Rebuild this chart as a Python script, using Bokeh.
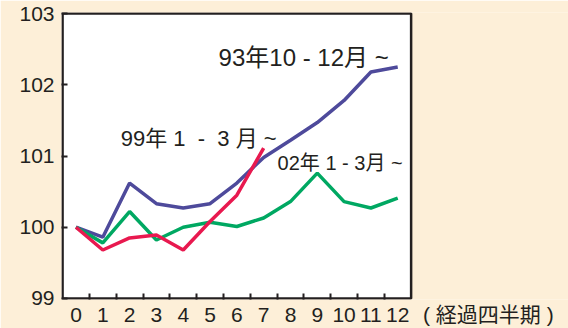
from bokeh.plotting import figure
from bokeh.models import FixedTicker, Label, Range1d, BoxAnnotation
from bokeh.embed import file_html
from bokeh.resources import INLINE

quarters = list(range(13))
s93 = [100.0, 99.86, 100.62, 100.33, 100.27, 100.33, 100.62, 100.98, 101.22, 101.47, 101.78, 102.18, 102.25]
q99 = list(range(8))
s99 = [100.0, 99.68, 99.85, 99.89, 99.68, 100.08, 100.45, 101.11]
s02 = [100.0, 99.78, 100.22, 99.82, 100.0, 100.07, 100.01, 100.13, 100.36, 100.76, 100.36, 100.27, 100.41]
y_ticks = [99, 100, 101, 102, 103]
NB = "\u00a0"
label93 = "93年10 - 12月 ~"
label99 = "99年" + NB + "1" + NB * 2 + "-" + NB * 2 + "3" + NB + "月" + NB + "~"
label02 = "02年" + NB + "1" + NB + "-" + NB + "3月" + NB + "~"
x_title = "(" + NB + "経過四半期" + NB + ")"
x_title_pos = 15.38

BG = "#FDEFD8"
INK = "#231F20"
FONT = "'Liberation Sans', 'Noto Sans CJK JP', sans-serif"

X0, X1 = quarters[0] - 0.5, quarters[-1] + 0.5
Y0, Y1 = y_ticks[0], y_ticks[-1]

p = figure(width=568, height=328, output_backend="svg", toolbar_location=None,
           x_range=Range1d(X0 - 0.04, 18.37), y_range=Range1d(Y0 - 0.015, Y1 + 0.015),
           min_border_left=61, min_border_right=0, min_border_top=12, min_border_bottom=29)
p.background_fill_color = BG
p.border_fill_color = BG
p.outline_line_color = None
p.grid.visible = False

p.add_layout(BoxAnnotation(left=X0, right=X1, bottom=Y0, top=Y1, fill_color="white",
                           fill_alpha=1, line_color=INK, line_alpha=1, line_width=2.5,
                           level="underlay"))

ticks = quarters + [x_title_pos]
p.xaxis.ticker = FixedTicker(ticks=ticks, minor_ticks=[i + 0.5 for i in range(12)])
p.xaxis.major_label_overrides = {x_title_pos: x_title}
p.xaxis.major_tick_in = 0
p.xaxis.major_tick_out = 0
p.xaxis.minor_tick_in = 6
p.xaxis.minor_tick_out = 0
p.xaxis.minor_tick_line_color = INK
p.xaxis.minor_tick_line_width = 2

p.yaxis.ticker = FixedTicker(ticks=y_ticks)
p.yaxis.minor_tick_line_color = None
p.yaxis.major_tick_in = 6
p.yaxis.major_tick_out = 0
p.yaxis.major_tick_line_color = INK
p.yaxis.major_tick_line_width = 2

for ax in (p.xaxis, p.yaxis):
    ax.axis_line_color = None
    ax.major_label_text_font = FONT
    ax.major_label_text_font_size = "21px"
    ax.major_label_text_color = INK
p.xaxis.major_label_standoff = 3
p.yaxis.major_label_standoff = 7

p.line(quarters, s93, line_color="#4E4A9B", line_width=3.5)
p.line(quarters, s02, line_color="#00A862", line_width=3.5)
p.line(q99, s99, line_color="#E8194F", line_width=3.5)

def lab(x, y, t, size):
    p.add_layout(Label(x=x, y=y, text=t, text_font=FONT, text_font_size=size,
                       text_color=INK, text_baseline="middle", text_align="left"))

lab(5.32, 102.38, label93, "24px")
lab(1.67, 101.25, label99, "22px")
lab(7.52, 100.90, label02, "20px")

open("out.html", "w").write(file_html(p, INLINE))
